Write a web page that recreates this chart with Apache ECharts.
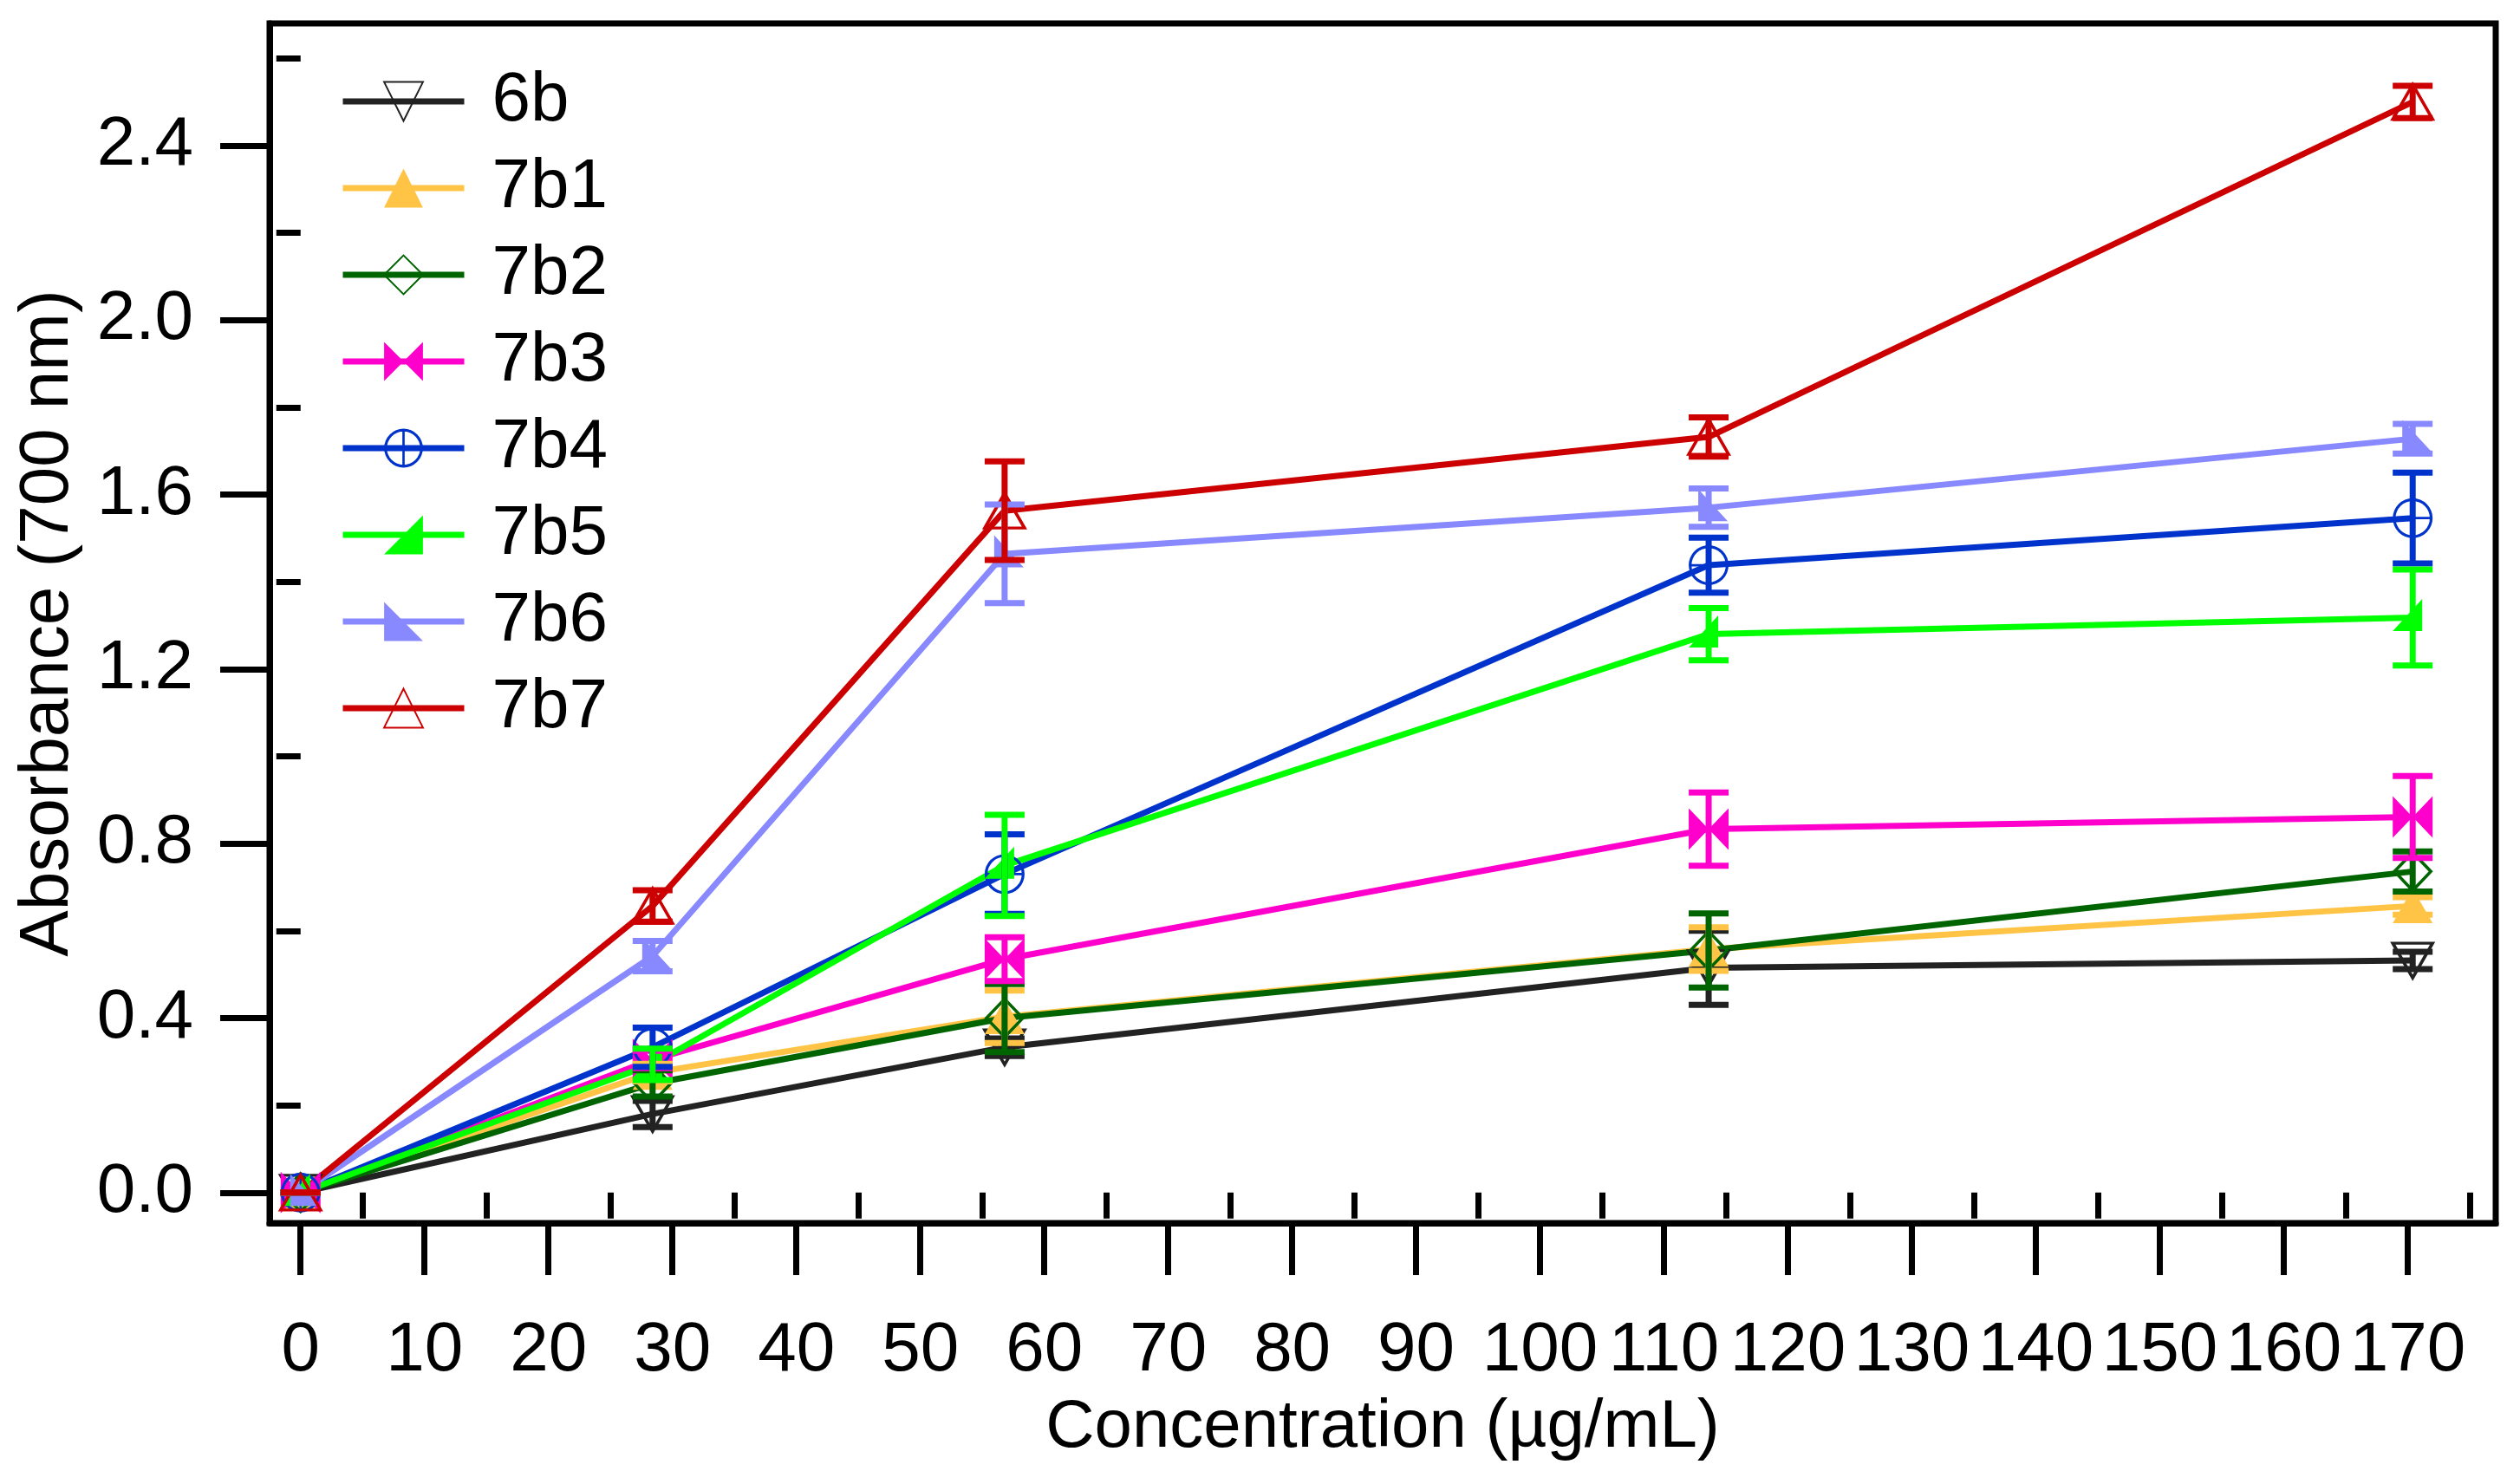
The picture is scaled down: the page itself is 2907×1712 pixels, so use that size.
<!DOCTYPE html>
<html>
<head>
<meta charset="utf-8">
<title>Absorbance vs concentration</title>
<script src="https://cdn.jsdelivr.net/npm/echarts@6.0.0/dist/echarts.min.js"></script>
<style>
html, body { margin: 0; padding: 0; background: #fff; }
#chart { width: 2907px; height: 1712px; }
</style>
</head>
<body>
<div id="chart"></div>
<script>
// data
var concentration = [0, 28.4, 56.8, 113.6, 170.4];

var abs6b  = [0, 0.18, 0.333, 0.515, 0.532];
var err6b  = [0, 0.03, 0.02, 0.085, 0.02];
var abs7b1 = [0, 0.275, 0.403, 0.558, 0.657];
var err7b1 = [0, 0.02, 0.06, 0.05, 0.02];
var abs7b2 = [0, 0.25, 0.40, 0.555, 0.736];
var err7b2 = [0, 0.03, 0.078, 0.085, 0.046];
var abs7b3 = [0, 0.305, 0.535, 0.833, 0.861];
var err7b3 = [0, 0.02, 0.05, 0.084, 0.094];
var abs7b4 = [0, 0.333, 0.73, 1.438, 1.546];
var err7b4 = [0, 0.045, 0.091, 0.063, 0.104];
var abs7b5 = [0, 0.294, 0.75, 1.28, 1.318];
var err7b5 = [0, 0.036, 0.116, 0.06, 0.11];
var abs7b6 = [0, 0.542, 1.464, 1.57, 1.728];
var err7b6 = [0, 0.035, 0.113, 0.044, 0.034];
var abs7b7 = [0, 0.657, 1.563, 1.732, 2.50];
var err7b7 = [0, 0.036, 0.113, 0.045, 0.037];

var xMajorTicks = [0, 10, 20, 30, 40, 50, 60, 70, 80, 90, 100, 110, 120, 130, 140, 150, 160, 170];
var xMinorTicks = [5, 15, 25, 35, 45, 55, 65, 75, 85, 95, 105, 115, 125, 135, 145, 155, 165, 175];
var yMajorTicks = [0, 0.4, 0.8, 1.2, 1.6, 2.0, 2.4];
var yMinorTicks = [0.2, 0.6, 1.0, 1.4, 1.8, 2.2, 2.6];

var FONT = '"Liberation Sans", Arial, sans-serif';

// marker shapes
var RING_PLUS = 'path://M0,-10 A10,10 0 1 1 0,10 A10,10 0 1 1 0,-10 Z ' +
    'M0,-8.6 A8.6,8.6 0 1 0 0,8.6 A8.6,8.6 0 1 0 0,-8.6 Z ' +
    'M-0.6,-8.6 L0.6,-8.6 L0.6,8.6 L-0.6,8.6 Z M-8.6,-0.6 L8.6,-0.6 L8.6,0.6 L-8.6,0.6 Z';
var DOWN_TRI = 'path://M-10,-10 L10,-10 L0,10 Z';
var BOWTIE = 'path://M-10,-10 L0,0 L-10,10 Z M10,-10 L0,0 L10,10 Z';
var HALF_RIGHT = 'path://M10,-10 L10,10 L-10,10 Z';
var HALF_LEFT = 'path://M-10,-10 L10,10 L-10,10 Z';

var specs = [
    { name: '6b',  y: abs6b,  e: err6b,  color: '#222222', symbol: DOWN_TRI, size: [46, 40], hollow: true },
    { name: '7b1', y: abs7b1, e: err7b1, color: '#FFC445', symbol: 'triangle', size: [46, 40] },
    { name: '7b2', y: abs7b2, e: err7b2, color: '#006400', symbol: 'diamond', size: [42, 44], hollow: true },
    { name: '7b3', y: abs7b3, e: err7b3, color: '#FF00CC', symbol: BOWTIE, size: [46, 48] },
    { name: '7b4', y: abs7b4, e: err7b4, color: '#0033CC', symbol: RING_PLUS, size: [46, 46] },
    { name: '7b5', y: abs7b5, e: err7b5, color: '#00FF00', symbol: HALF_RIGHT, size: [34, 37], offset: [-6, -3] },
    { name: '7b6', y: abs7b6, e: err7b6, color: '#8888FF', symbol: HALF_LEFT, size: [34, 37], offset: [5, -3] },
    { name: '7b7', y: abs7b7, e: err7b7, color: '#CC0000', symbol: 'triangle', size: [46, 40], hollow: true }
];

function lineSeries(s) {
    return {
        type: 'line',
        name: s.name,
        data: concentration.map(function (x, i) { return [x, s.y[i]]; }),
        symbol: s.symbol,
        symbolSize: s.size,
        symbolOffset: s.offset || [0, 0],
        showAllSymbol: true,
        lineStyle: { color: s.color, width: 7 },
        itemStyle: s.hollow
            ? { color: 'rgba(255,255,255,0)', borderColor: s.color, borderWidth: 3.5 }
            : { color: s.color, borderWidth: 0 },
        z: 2
    };
}

function errorSeries(s) {
    return {
        type: 'custom',
        name: s.name + ' sd',
        data: concentration.map(function (x, i) { return [x, s.y[i] - s.e[i], s.y[i] + s.e[i]]; }),
        encode: { x: 0, y: [1, 2] },
        z: 3,
        renderItem: function (params, api) {
            var x = api.value(0);
            var lo = api.coord([x, api.value(1)]);
            var hi = api.coord([x, api.value(2)]);
            var half = 23;
            var style = { stroke: s.color, lineWidth: 7 };
            return {
                type: 'group',
                children: [
                    { type: 'line', shape: { x1: lo[0], y1: lo[1], x2: hi[0], y2: hi[1] }, style: style },
                    { type: 'line', shape: { x1: hi[0] - half, y1: hi[1], x2: hi[0] + half, y2: hi[1] }, style: style },
                    { type: 'line', shape: { x1: lo[0] - half, y1: lo[1], x2: lo[0] + half, y2: lo[1] }, style: style }
                ]
            };
        }
    };
}

var series = [];
specs.forEach(function (s) { series.push(lineSeries(s)); });
specs.forEach(function (s) { series.push(errorSeries(s)); });

var axisLineStyle = { color: '#000', width: 7 };

var chart = echarts.init(document.getElementById('chart'));
chart.setOption({
    animation: false,
    backgroundColor: '#fff',
    grid: {
        left: 311, top: 27, width: 2568, height: 1384,
        show: true, borderColor: '#000', borderWidth: 7,
        outerBoundsMode: 'none'
    },
    legend: {
        data: specs.map(function (s) { return s.name; }),
        orient: 'vertical',
        left: 387,
        top: 72,
        itemWidth: 140,
        itemHeight: 56,
        itemGap: 20,
        lineStyle: { width: 7 },
        textStyle: { fontSize: 80, lineHeight: 56, fontFamily: FONT, color: '#000', padding: [0, 0, 0, 27] }
    },
    xAxis: [{
        type: 'value',
        min: -2.5,
        max: 177.1,
        position: 'bottom',
        axisLine: { show: true, onZero: false, lineStyle: axisLineStyle },
        axisTick: { show: true, customValues: xMajorTicks, length: 60, lineStyle: axisLineStyle },
        axisLabel: { customValues: xMajorTicks, margin: 108, fontSize: 80, color: '#000', fontFamily: FONT },
        splitLine: { show: false },
        name: 'Concentration (µg/mL)',
        nameLocation: 'middle',
        nameGap: 197,
        nameTextStyle: { fontSize: 78, color: '#000', fontFamily: FONT }
    }, {
        type: 'value',
        min: -2.5,
        max: 177.1,
        position: 'bottom',
        axisLine: { show: false },
        axisTick: { show: true, customValues: xMinorTicks, length: 30, lineStyle: axisLineStyle },
        axisLabel: { show: false },
        splitLine: { show: false }
    }],
    yAxis: [{
        type: 'value',
        min: -0.07,
        max: 2.68,
        position: 'left',
        axisLine: { show: true, onZero: false, lineStyle: axisLineStyle },
        axisTick: { show: true, customValues: yMajorTicks, length: 57, lineStyle: axisLineStyle },
        axisLabel: {
            customValues: yMajorTicks, margin: 88, fontSize: 80, color: '#000', fontFamily: FONT,
            formatter: function (v) { return v.toFixed(1); }
        },
        splitLine: { show: false },
        name: 'Absorbance (700 nm)',
        nameLocation: 'middle',
        nameGap: 215,
        nameTextStyle: { fontSize: 80, color: '#000', fontFamily: FONT }
    }, {
        type: 'value',
        min: -0.07,
        max: 2.68,
        position: 'left',
        axisLine: { show: false },
        axisTick: { show: true, customValues: yMinorTicks, length: 28, lineStyle: axisLineStyle },
        axisLabel: { show: false },
        splitLine: { show: false }
    }],
    series: series
});
</script>
</body>
</html>
